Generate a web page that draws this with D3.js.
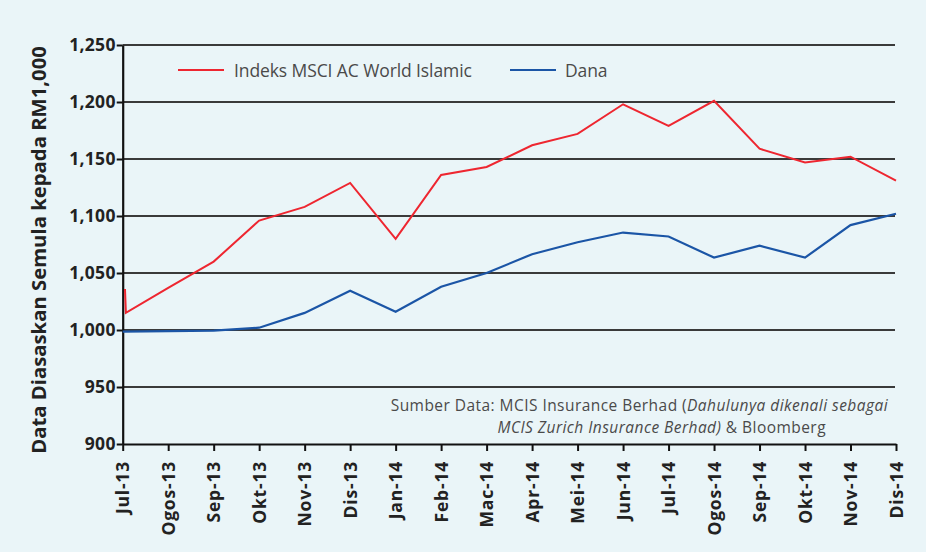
<!DOCTYPE html>
<html>
<head>
<meta charset="utf-8">
<script src="https://cdn.jsdelivr.net/npm/d3@7"></script>
<style>
html,body{margin:0;padding:0;background:#eaf5f8;}
svg{display:block;}
</style>
</head>
<body>
<svg id="chart" width="926" height="552"></svg>
<script>
const months = ["Jul-13","Ogos-13","Sep-13","Okt-13","Nov-13","Dis-13","Jan-14","Feb-14","Mac-14","Apr-14","Mei-14","Jun-14","Jul-14","Ogos-14","Sep-14","Okt-14","Nov-14","Dis-14"];
const indexPos = [0.05,0.07,1,2,3,4,5,6,7,8,9,10,11,12,13,14,15,16,17];
const indexValues = [1036,1015,1037,1060,1096,1108,1129,1080,1136,1143,1162,1172,1198,1179,1201,1159,1147,1152,1131];
const fundPos = [0,1,2,3,4,5,6,7,8,9,10,11,12,13,14,15,16,17];
const fundValues = [998.5,999,999.5,1002,1015,1034.5,1016,1038,1050,1066.5,1077,1085.5,1082,1063.5,1074,1063.5,1092,1102];
const yTicks = [900,950,1000,1050,1100,1150,1200,1250];
const seriesNames = ["Indeks MSCI AC World Islamic","Dana"];
const yTitle = "Data Diasaskan Semula kepada RM1,000";

const svg = d3.select("#chart");
const x = d3.scaleLinear().domain([0,17]).range([122.7,896]);
const y = d3.scaleLinear().domain([900,1250]).range([444,45]);
const fmt = d3.format(",");

// gridlines
svg.append("g").selectAll("line").data(yTicks.slice(1)).join("line")
  .attr("x1", x(0)).attr("x2", 895).attr("y1", d=>y(d)).attr("y2", d=>y(d))
  .attr("stroke","#3a3a3a").attr("stroke-width",1.8);

// source note
const src = svg.append("g").attr("font-family","'Open Sans', sans-serif").attr("font-size",15.5).attr("fill","#4a4a4a");
const t1 = src.append("text").attr("x",888).attr("y",411).attr("text-anchor","end").attr("letter-spacing","0.45");
t1.append("tspan").text("Sumber Data: MCIS Insurance Berhad (");
t1.append("tspan").attr("font-style","italic").text("Dahulunya dikenali sebagai");
const t2 = src.append("text").attr("x",826).attr("y",433).attr("text-anchor","end").attr("letter-spacing","0.45");
t2.append("tspan").attr("font-style","italic").text("MCIS Zurich Insurance Berhad)");
t2.append("tspan").text(" & Bloomberg");

// y axis
const yAxis = svg.append("g").attr("transform",`translate(${x(0)},0)`)
  .call(d3.axisLeft(y).tickValues(yTicks).tickFormat(fmt).tickSize(6).tickSizeOuter(0));
yAxis.select(".domain").attr("stroke","#111").attr("stroke-width",2.2);
yAxis.selectAll(".tick line").attr("stroke","#111").attr("stroke-width",2);
yAxis.selectAll(".tick text").attr("font-family","'Open Sans', sans-serif").attr("font-weight","bold")
  .attr("font-size",17.5).attr("fill","#222").attr("x",-7).attr("letter-spacing","0.3");

// x axis
const xAxis = svg.append("g").attr("transform",`translate(0,${y(900)})`)
  .call(d3.axisBottom(x).tickValues(d3.range(months.length)).tickFormat(i=>months[i]).tickSize(7).tickSizeOuter(0));
xAxis.select(".domain").attr("stroke","#111").attr("stroke-width",2.2);
xAxis.selectAll(".tick line").attr("stroke","#111").attr("stroke-width",2);
xAxis.selectAll(".tick text").attr("font-family","'Open Sans', sans-serif").attr("font-weight","bold")
  .attr("font-size",17.5).attr("fill","#222")
  .attr("transform","rotate(-90)").attr("text-anchor","end").attr("x",-17).attr("y",0).attr("dy","0.35em")
  .attr("letter-spacing","0.8");

// lines
const line = d3.line().x(d=>x(d[0])).y(d=>y(d[1]));
svg.append("path").datum(indexPos.map((p,i)=>[p,indexValues[i]])).attr("d",line)
  .attr("fill","none").attr("stroke","#ee2630").attr("stroke-width",2).attr("stroke-linejoin","miter");
svg.append("path").datum(fundPos.map((p,i)=>[p,fundValues[i]])).attr("d",line)
  .attr("fill","none").attr("stroke","#1b55a6").attr("stroke-width",2.2);

// legend
const leg = svg.append("g").attr("font-family","'Open Sans', sans-serif").attr("font-size",17.5).attr("fill","#4a4a4a");
const legItems = [{name:seriesNames[0],color:"#ee2630",x0:178,tx:234},{name:seriesNames[1],color:"#1b55a6",x0:510,tx:565}];
legItems.forEach(it=>{
  leg.append("line").attr("x1",it.x0).attr("x2",it.x0+46).attr("y1",70).attr("y2",70).attr("stroke",it.color).attr("stroke-width",2.2);
  leg.append("text").attr("x",it.tx).attr("y",77).attr("letter-spacing","-0.1").text(it.name);
});

// y title
svg.append("text").attr("transform","translate(46,250) rotate(-90)").attr("text-anchor","middle")
  .attr("font-family","'Open Sans', sans-serif").attr("font-weight","bold").attr("font-size",20.3)
  .attr("fill","#222").text(yTitle);
</script>
</body>
</html>
